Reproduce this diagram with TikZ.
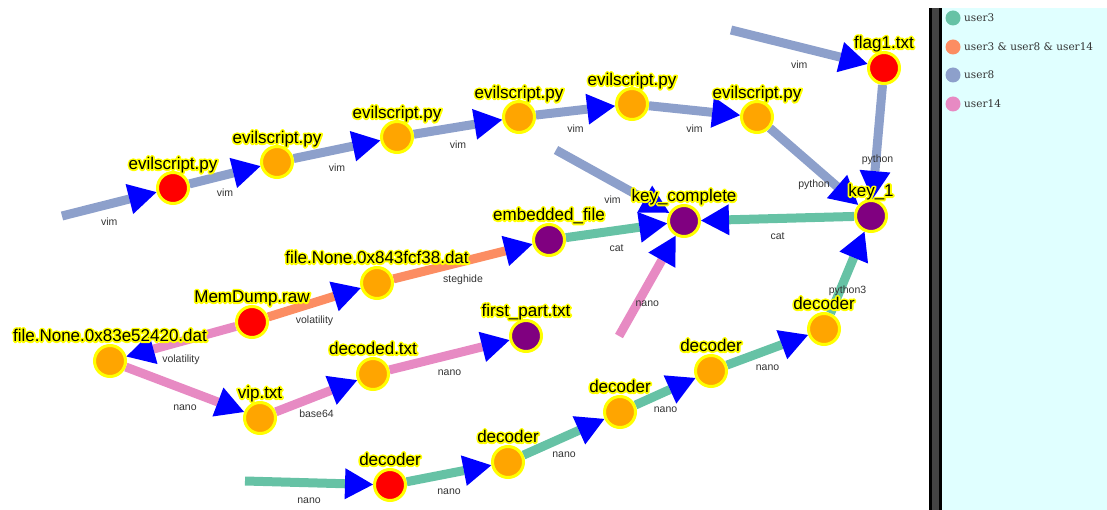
\documentclass[tikz,border=0pt]{standalone}
\usepackage{fontspec}
\setmainfont{Liberation Sans}
\newfontfamily\legendfont{DejaVu Serif}
\newfontfamily\halofont[FakeBold=21]{Liberation Sans}
\usetikzlibrary{arrows.meta,backgrounds}

\definecolor{uthree}{HTML}{66C2A5}
\definecolor{umix}{HTML}{FC8D62}
\definecolor{ueight}{HTML}{8DA0CB}
\definecolor{ufourteen}{HTML}{E78AC3}
\definecolor{haloyel}{HTML}{FFFF00}
\definecolor{nodeorange}{HTML}{FFA500}
\definecolor{nodered}{HTML}{FF0000}
\definecolor{nodepurple}{HTML}{800080}
\definecolor{tipblue}{HTML}{0000FF}
\definecolor{lblgray}{HTML}{333333}
\definecolor{panelcyan}{HTML}{E0FFFF}
\definecolor{bargray}{HTML}{444444}

% text with a yellow outline: a stroked yellow copy under the black text
\newcommand\halo[1]{\leavevmode\rlap{\color{haloyel}\halofont #1}#1}

\tikzset{
  filenode/.style={circle, draw=haloyel, line width=3pt, minimum size=31pt, inner sep=0pt},
  orangenode/.style={filenode, fill=nodeorange},
  rednode/.style={filenode, fill=nodered},
  purplenode/.style={filenode, fill=nodepurple},
  nlabel/.style={font=\fontsize{17}{19}\selectfont, inner sep=0pt, text height=12.2pt, text depth=3.6pt, line join=round},
  elabel/.style={font=\fontsize{10.5}{12}\selectfont, text=lblgray, inner sep=0pt, midway, yshift=-18pt},
  flow/.style={line width=9pt, -{Triangle[length=28pt, width=31pt, line width=0pt, color=tipblue]}},
  legtext/.style={anchor=west, font=\legendfont\fontsize{10.5}{12}\selectfont, text=lblgray, inner sep=0pt},
}

\newcommand\fnode[5]{%
  \node[#1] (#2) at (#3) {};
  \node[nlabel] (#2-l) at ([yshift=#4]#2.center) {\halo{#5}};
}

\begin{document}
\begin{tikzpicture}[x=1pt, y=-1pt]
  \useasboundingbox (0,0) rectangle (1107,510);

  % legend panel
  \fill[panelcyan] (942,8) rectangle (1107,510);
  \fill[black] (929,8) rectangle (942,510);
  \fill[bargray] (931.5,8) rectangle (939,510);
  \fill[uthree] (953,18) circle (7.5);
  \node[legtext] (leg1) at (964,18) {user3};
  \fill[umix] (953,47) circle (7.5);
  \node[legtext] (leg2) at (964,47) {user3 \& user8 \& user14};
  \fill[ueight] (953,75) circle (7.5);
  \node[legtext] (leg3) at (964,75) {user8};
  \fill[ufourteen] (953,104) circle (7.5);
  \node[legtext] (leg4) at (964,104) {user14};

  % files
  \fnode{rednode}{es1}{173,188}{23pt}{evilscript.py}
  \fnode{orangenode}{es2}{277,162}{23pt}{evilscript.py}
  \fnode{orangenode}{es3}{397,137}{23pt}{evilscript.py}
  \fnode{orangenode}{es4}{519,117}{23pt}{evilscript.py}
  \fnode{orangenode}{es5}{632,104}{23pt}{evilscript.py}
  \fnode{orangenode}{es6}{757,117}{23pt}{evilscript.py}
  \fnode{rednode}{flag}{884,68}{24pt}{flag1.txt}
  \fnode{purplenode}{key1}{871,216}{24pt}{key\_1}
  \fnode{purplenode}{keyc}{684,221}{24pt}{key\_complete}
  \fnode{purplenode}{emb}{549,240}{24pt}{embedded\_file}
  \fnode{orangenode}{f843}{377,283}{24pt}{file.None.0x843fcf38.dat}
  \fnode{rednode}{mem}{252,322}{24pt}{MemDump.raw}
  \fnode{orangenode}{f83e}{110,361}{24pt}{file.None.0x83e52420.dat}
  \fnode{orangenode}{vip}{260,418}{24pt}{vip.txt}
  \fnode{orangenode}{decd}{373,374}{24pt}{decoded.txt}
  \fnode{purplenode}{first}{526,336}{24pt}{first\_part.txt}
  \fnode{rednode}{d1}{390,485}{24pt}{decoder}
  \fnode{orangenode}{d2}{508,462}{24pt}{decoder}
  \fnode{orangenode}{d3}{620,412}{24pt}{decoder}
  \fnode{orangenode}{d4}{711,371}{24pt}{decoder}
  \fnode{orangenode}{d5}{824,329}{24pt}{decoder}

  % loose ends of incoming flows
  \coordinate (in-es) at (62,216);
  \coordinate (in-flag) at (731,30);
  \coordinate (in-vim) at (556,150);
  \coordinate (in-nano) at (619,336);
  \coordinate (in-dec) at (245,481);

  \begin{pgfonlayer}{background}
    % user8
    \draw[flow, ueight] (in-es) -- (es1) node[elabel] {vim};
    \draw[flow, ueight] (es1) -- (es2) node[elabel] {vim};
    \draw[flow, ueight] (es2) -- (es3) node[elabel] {vim};
    \draw[flow, ueight] (es3) -- (es4) node[elabel] {vim};
    \draw[flow, ueight] (es4) -- (es5) node[elabel] {vim};
    \draw[flow, ueight] (es5) -- (es6) node[elabel] {vim};
    \draw[flow, ueight] (es6) -- (key1) node[elabel] {python};
    \draw[flow, ueight] (in-flag) -- (flag) node[elabel] {vim};
    \draw[flow, ueight] (flag) -- (key1) node[elabel] {python};
    \draw[flow, ueight] (in-vim) -- (keyc) node[elabel] {vim};
    % user3
    \draw[flow, uthree] (key1) -- (keyc) node[elabel] {cat};
    \draw[flow, uthree] (emb) -- (keyc) node[elabel] {cat};
    \draw[flow, uthree] (in-dec) -- (d1) node[elabel] {nano};
    \draw[flow, uthree] (d1) -- (d2) node[elabel] {nano};
    \draw[flow, uthree] (d2) -- (d3) node[elabel] {nano};
    \draw[flow, uthree] (d3) -- (d4) node[elabel] {nano};
    \draw[flow, uthree] (d4) -- (d5) node[elabel] {nano};
    \draw[flow, uthree] (d5) -- (key1) node[elabel] {python3};
    % shared
    \draw[flow, umix] (f843) -- (emb) node[elabel] {steghide};
    \draw[flow, umix] (mem) -- (f843) node[elabel] {volatility};
    % user14
    \draw[flow, ufourteen] (in-nano) -- (keyc) node[elabel] {nano};
    \draw[flow, ufourteen] (mem) -- (f83e) node[elabel] {volatility};
    \draw[flow, ufourteen] (f83e) -- (vip) node[elabel] {nano};
    \draw[flow, ufourteen] (vip) -- (decd) node[elabel] {base64};
    \draw[flow, ufourteen] (decd) -- (first) node[elabel] {nano};
  \end{pgfonlayer}
\end{tikzpicture}
\end{document}
